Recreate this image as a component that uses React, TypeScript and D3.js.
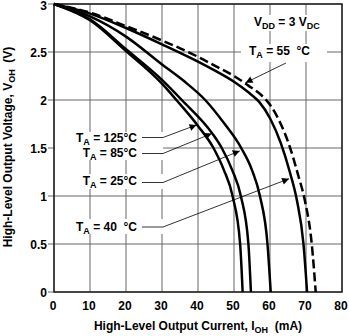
import React from "react";
import * as d3 from "d3";

const W = 349;
const H = 336;

const xTicks = [0, 10, 20, 30, 40, 50, 60, 70, 80];
const yTicks = [0, 0.5, 1, 1.5, 2, 2.5, 3];
const yTickLabels = ["0", "0.5", "1", "1.5", "2", "2.5", "3"];

const i125 = [0, 10, 20, 30, 34, 40, 44.3, 47.2, 49.6, 51.7, 52.4];
const v125 = [3, 2.83, 2.51, 2.17, 2.0, 1.73, 1.5, 1.27, 1.0, 0.5, 0];
const i85 = [0, 10, 20, 30, 35.5, 44, 46.6, 49.5, 51.9, 54, 54.7];
const v85 = [3, 2.84, 2.53, 2.21, 2.0, 1.65, 1.5, 1.27, 1.0, 0.5, 0];
const i25 = [0, 10, 20, 30, 36, 42, 47, 52, 55, 57.2, 59.3, 60.2];
const v25 = [3, 2.87, 2.66, 2.37, 2.2, 2.0, 1.77, 1.5, 1.27, 1.0, 0.5, 0];
const iM40 = [0, 10, 20, 30, 40, 45, 50, 54, 57, 60, 63, 65.5, 67.5, 69.3, 70.3];
const vM40 = [3, 2.9, 2.75, 2.58, 2.4, 2.3, 2.19, 2.08, 1.98, 1.81, 1.55, 1.25, 0.95, 0.5, 0];
const iM55 = [0, 10, 20, 30, 40, 45, 50, 54, 57, 60, 63, 65.6, 67.8, 69.7, 71.6, 72.7];
const vM55 = [3, 2.91, 2.77, 2.62, 2.45, 2.35, 2.25, 2.15, 2.07, 1.95, 1.75, 1.5, 1.22, 0.95, 0.5, 0];

const solidSeries = [
  { i: i125, v: v125 },
  { i: i85, v: v85 },
  { i: i25, v: v25 },
  { i: iM40, v: vM40 },
];

// arrow tips (data coords) for each label
const tip125 = [39.6, 1.74];
const tip85 = [43.8, 1.65];
const tip25 = [51.6, 1.47];
const tipM40 = [65.3, 1.18];
const tipM55 = [53.2, 2.18];

const M = { left: 54, right: 342, top: 4, bottom: 292 };

const FONT = "'Liberation Sans', Arial, Helvetica, sans-serif";

export default function App() {
  const x = d3.scaleLinear().domain([0, 80]).range([M.left, M.right]);
  const y = d3.scaleLinear().domain([0, 3]).range([M.bottom, M.top]);
  const line = d3
    .line<[number, number]>()
    .x((d) => x(d[0]))
    .y((d) => y(d[1]))
    .curve(d3.curveMonotoneX);

  const pts = (is: number[], vs: number[]) =>
    is.map((v, k) => [v, vs[k]] as [number, number]);

  const leader = (ly: number, tip: number[]) =>
    `M142,${ly} L163,${ly} L${x(tip[0])},${y(tip[1])}`;

  const txt = {
    fontFamily: FONT,
    fontWeight: 700,
    fontSize: 12,
    fill: "#000",
  } as const;

  const TA = (label: string, xr: number, yb: number) => (
    <text {...txt} x={xr} y={yb} textAnchor="end" style={{ whiteSpace: "pre" }}>
      T
      <tspan fontSize={9} dy={3}>
        A
      </tspan>
      <tspan dy={-3}>{label}</tspan>
    </text>
  );

  return (
    <svg
      width={W}
      height={H}
      style={{ position: "absolute", left: 0, top: 0, background: "#fff" }}
    >
      <defs>
        <marker
          id="arr"
          viewBox="0 0 10 10"
          refX={10}
          refY={5}
          markerWidth={9}
          markerHeight={7}
          markerUnits="userSpaceOnUse"
          orient="auto"
        >
          <path d="M0,0 L10,5 L0,10 z" fill="#000" />
        </marker>
      </defs>
      <rect x={0} y={0} width={W} height={H} fill="#fff" />
      {/* grid */}
      {xTicks.map((t) => (
        <line
          key={"gx" + t}
          x1={x(t)}
          x2={x(t)}
          y1={M.top}
          y2={M.bottom}
          stroke="#666"
          strokeWidth={1}
        />
      ))}
      {yTicks.map((t) => (
        <line
          key={"gy" + t}
          x1={M.left - 6}
          x2={M.right}
          y1={y(t)}
          y2={y(t)}
          stroke="#666"
          strokeWidth={1}
        />
      ))}
      {/* label backgrounds */}
      <rect x={55} y={132} width={108} height={28} fill="#fff" />
      <rect x={70} y={174} width={93} height={15} fill="#fff" />
      <rect x={70} y={219} width={93} height={15} fill="#fff" />
      <rect x={251} y={15} width={74} height={16} fill="#fff" />
      <rect x={241} y={44} width={86} height={18} fill="#fff" />
      {/* frame */}
      <rect
        x={M.left}
        y={M.top}
        width={M.right - M.left}
        height={M.bottom - M.top}
        fill="none"
        stroke="#222"
        strokeWidth={1.5}
      />
      {/* curves */}
      {solidSeries.map((s, k) => (
        <path
          key={"c" + k}
          d={line(pts(s.i, s.v)) || ""}
          fill="none"
          stroke="#000"
          strokeWidth={2.5}
        />
      ))}
      <path
        d={line(pts(iM55, vM55)) || ""}
        fill="none"
        stroke="#000"
        strokeWidth={2.5}
        strokeDasharray="9,4"
      />
      {/* leaders */}
      <g fill="none" stroke="#000" strokeWidth={0.8}>
        <path d={leader(137.5, tip125)} markerEnd="url(#arr)" />
        <path d={leader(153.5, tip85)} markerEnd="url(#arr)" />
        <path d={leader(182.5, tip25)} markerEnd="url(#arr)" />
        <path d={leader(227, tipM40)} markerEnd="url(#arr)" />
        <path
          d={`M286,63 L${x(tipM55[0])},${y(tipM55[1])}`}
          markerEnd="url(#arr)"
        />
      </g>
      {/* labels */}
      {TA(" = 125°C", 137, 142)}
      {TA(" = 85°C", 137, 157)}
      {TA(" = 25°C", 137, 185)}
      {TA(" = 40  °C", 137, 231)}
      <text {...txt} x={249} y={55} style={{ whiteSpace: "pre" }}>
        T
        <tspan fontSize={9} dy={3}>
          A
        </tspan>
        <tspan dy={-3}>{" = 55  °C"}</tspan>
      </text>
      <text {...txt} x={254} y={26} style={{ whiteSpace: "pre" }}>
        V
        <tspan fontSize={9} dy={3}>
          DD
        </tspan>
        <tspan dy={-3}>{" = 3 V"}</tspan>
        <tspan fontSize={9} dy={3}>
          DC
        </tspan>
      </text>
      {/* tick labels */}
      {yTicks.map((t, k) => (
        <text
          key={"yl" + k}
          {...txt}
          x={47}
          y={Math.max(y(t) + 4.5, 10)}
          textAnchor="end"
        >
          {yTickLabels[k]}
        </text>
      ))}
      {xTicks.map((t) => (
        <text key={"xl" + t} {...txt} x={x(t) - 1} y={310} textAnchor="middle">
          {t}
        </text>
      ))}
      {/* axis titles */}
      <text
        {...txt}
        x={(M.left + M.right) / 2}
        y={330}
        textAnchor="middle"
        style={{ whiteSpace: "pre" }}
      >
        High-Level Output Current, I
        <tspan fontSize={9} dy={3}>
          OH
        </tspan>
        <tspan dy={-3}>{"  (mA)"}</tspan>
      </text>
      <text
        {...txt}
        transform={`translate(12,147) rotate(-90)`}
        textAnchor="middle"
        style={{ whiteSpace: "pre" }}
      >
        High-Level Output Voltage, V
        <tspan fontSize={9} dy={3}>
          OH
        </tspan>
        <tspan dy={-3}>{"  (V)"}</tspan>
      </text>
    </svg>
  );
}
